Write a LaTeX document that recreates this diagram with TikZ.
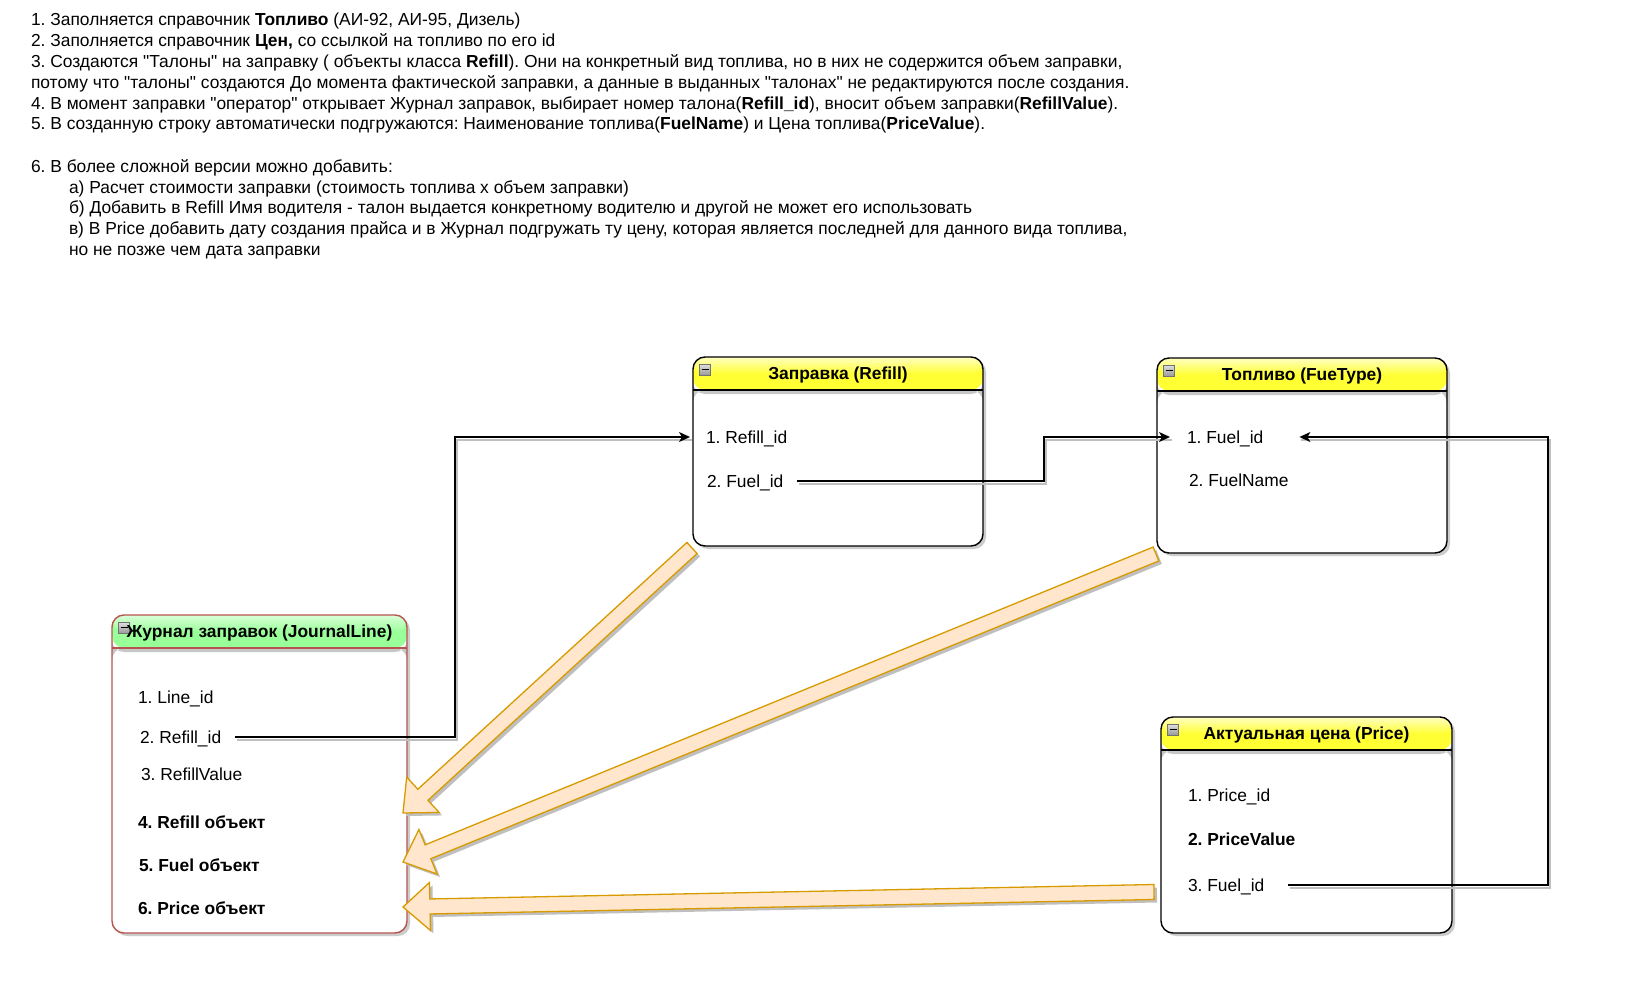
\documentclass[tikz,border=0pt]{standalone}
\usepackage{fontspec}
\setmainfont{Liberation Sans}[Ligatures=TeXOff]
\usetikzlibrary{calc,arrows.meta,shadows}
\definecolor{blkfill}{HTML}{FFE6CC}
\definecolor{blkline}{HTML}{D79B00}
\definecolor{hyel}{HTML}{FFFF33}
\definecolor{hyellt}{HTML}{FFFFC0}
\definecolor{hgrn}{HTML}{99FF99}
\definecolor{hgrnlt}{HTML}{D9FFD9}
\definecolor{jred}{HTML}{B85450}
\newcommand\fs{\fontsize{17.4}{20.8}\selectfont\frenchspacing}
\tikzset{
  tx/.style={anchor=west, inner sep=0pt, outer sep=0pt, text height=12.4pt, text depth=0pt, font=\fs},
  ttl/.style={inner sep=0pt, outer sep=0pt, text height=12.4pt, text depth=0pt, font=\fs\bfseries},
  ent/.style n args={3}{rectangle, rounded corners=12pt, fill=white, draw=#3, line width=1.4pt,
    inner sep=0pt, outer sep=0pt,
    drop shadow={shadow xshift=3pt, shadow yshift=-3pt, fill=black!20, opacity=1},
    path picture={
      \fill[#1] (path picture bounding box.north west) rectangle ([yshift=-33pt]path picture bounding box.north east);
      \shade[top color=#2, bottom color=#1] (path picture bounding box.north west) rectangle ([yshift=-17pt]path picture bounding box.north east);
      \fill[black!22] ([yshift=-33pt]path picture bounding box.north west) rectangle ([yshift=-37pt]path picture bounding box.north east);
      \draw[#3, line width=1.4pt] ([yshift=-33pt]path picture bounding box.north west) -- ([yshift=-33pt]path picture bounding box.north east);
    }},
  minusico/.style={rectangle, minimum size=11pt, inner sep=0pt, draw=black!55, line width=0.7pt,
    top color=black!12, bottom color=black!40,
    path picture={\draw[black, line width=1.2pt] ([xshift=-3.5pt]path picture bounding box.center) -- ([xshift=3.5pt]path picture bounding box.center);}},
  conn/.style={draw=black, line width=1.4pt, -{Stealth[length=11pt,width=10pt,inset=3pt]}},
  connsh/.style={draw=black!25, line width=1.3pt, transform canvas={shift={(2pt,-3pt)}}},
  blk/.style={fill=blkfill, draw=blkline, line width=1.3pt, line join=miter},
  blksh/.style={fill=black!25, transform canvas={shift={(3pt,-3pt)}}},
}
\newcommand\entity[9]{%
  \node[ent={#6}{#7}{#8}, minimum width=#4pt, minimum height=#5pt] (#1) at (#2,#3) {};
  \node[minusico] (#1-ico) at ([xshift=12pt,yshift=-12.5pt]#1.north west) {};
  \node[ttl] (#1-ttl) at ([yshift=-16.5pt]#1.north) {#9};
}
\newcommand\blockarr[2]{%
  \coordinate (ba-h) at ($(#2)!27pt!(#1)$);
  \coordinate (ba-a) at ($(#1)!7.5pt!90:(#2)$);
  \coordinate (ba-b) at ($(ba-h)!7.5pt!90:(#2)$);
  \coordinate (ba-c) at ($(ba-h)!24pt!90:(#2)$);
  \coordinate (ba-d) at ($(ba-h)!24pt!-90:(#2)$);
  \coordinate (ba-e) at ($(ba-h)!7.5pt!-90:(#2)$);
  \coordinate (ba-f) at ($(#1)!7.5pt!-90:(#2)$);
  \fill[blksh] (ba-a) -- (ba-b) -- (ba-c) -- (#2) -- (ba-d) -- (ba-e) -- (ba-f) -- cycle;
  \filldraw[blk] (ba-a) -- (ba-b) -- (ba-c) -- (#2) -- (ba-d) -- (ba-e) -- (ba-f) -- cycle;
}
\begin{document}
\begin{tikzpicture}[x=1pt,y=-1pt]
\useasboundingbox (0,0) rectangle (1626,985);
\fill[white] (0,0) rectangle (1626,985);

% explanatory text
\node[tx] (t1) at (31,19.7) {1. Заполняется справочник \textbf{Топливо} (АИ-92, АИ-95, Дизель)};
\node[tx] (t2) at (31,40.5) {2. Заполняется справочник \textbf{Цен,} со ссылкой на топливо по его id};
\node[tx] (t3) at (31,61.3) {3. Создаются "Талоны" на заправку ( объекты класса \textbf{Refill}). Они на конкретный вид топлива, но в них не содержится объем заправки,};
\node[tx] (t4) at (31,82) {потому что "талоны" создаются До момента фактической заправки, а данные в выданных "талонах" не редактируются после создания.};
\node[tx] (t5) at (31,102.8) {4. В момент заправки "оператор" открывает Журнал заправок, выбирает номер талона(\textbf{Refill\_id}), вносит объем заправки(\textbf{RefillValue}).};
\node[tx] (t6) at (31,123.6) {5. В созданную строку автоматически подгружаются: Наименование топлива(\textbf{FuelName}) и Цена топлива(\textbf{PriceValue}).};
\node[tx] (t7) at (31,166) {6. В более сложной версии можно добавить:};
\node[tx] (t8) at (69,186.8) {а) Расчет стоимости заправки (стоимость топлива х объем заправки)};
\node[tx] (t9) at (69,207.6) {б) Добавить в Refill Имя водителя - талон выдается конкретному водителю и другой не может его использовать};
\node[tx] (t10) at (69,228.4) {в) В Price добавить дату создания прайса и в Журнал подгружать ту цену, которая является последней для данного вида топлива,};
\node[tx] (t11) at (69,249.2) {но не позже чем дата заправки};

% entities
\entity{refill}{838}{451.5}{290}{189}{hyel}{hyellt}{black}{Заправка (Refill)}
\entity{fuel}{1302}{455.5}{290}{195}{hyel}{hyellt}{black}{Топливо (FueType)}
\entity{journal}{259.5}{774}{295}{318}{hgrn}{hgrnlt}{jred}{Журнал заправок (JournalLine)}
\entity{price}{1306.5}{825}{291}{216}{hyel}{hyellt}{black}{Актуальная цена (Price)}

% items
\node[tx] (r1) at (706,437) {1. Refill\_id};
\node[tx] (r2) at (707,481) {2. Fuel\_id};
\node[tx] (f1) at (1187,437) {1. Fuel\_id};
\node[tx] (f2) at (1189,480) {2. FuelName};
\node[tx] (j1) at (138,697) {1. Line\_id};
\node[tx] (j2) at (140,737) {2. Refill\_id};
\node[tx] (j3) at (141,774) {3. RefillValue};
\node[tx,font=\fs\bfseries] (j4) at (138,822) {4. Refill объект};
\node[tx,font=\fs\bfseries] (j5) at (139,865) {5. Fuel объект};
\node[tx,font=\fs\bfseries] (j6) at (138,908) {6. Price объект};
\node[tx] (p1) at (1188,795) {1. Price\_id};
\node[tx,font=\fs\bfseries] (p2) at (1188,839) {2. PriceValue};
\node[tx] (p3) at (1188,885) {3. Fuel\_id};

% connectors
\coordinate (b1) at (455,0);
\coordinate (b2) at (1044,0);
\coordinate (b3) at (1548,0);
\draw[connsh] ([xshift=14pt]j2.east) -| (b1 |- r1.west) -- ([xshift=-16pt]r1.west);
\draw[conn] ([xshift=14pt]j2.east) -| (b1 |- r1.west) -- ([xshift=-16pt]r1.west);
\draw[connsh] ([xshift=14pt]r2.east) -| (b2 |- f1.west) -- ([xshift=-17pt]f1.west);
\draw[conn] ([xshift=14pt]r2.east) -| (b2 |- f1.west) -- ([xshift=-17pt]f1.west);
\draw[connsh] ([xshift=24pt]p3.east) -| (b3 |- f1.east) -- ([xshift=36pt]f1.east);
\draw[conn] ([xshift=24pt]p3.east) -| (b3 |- f1.east) -- ([xshift=36pt]f1.east);

% block arrows
\coordinate (a1s) at ([shift={(-1pt,-2pt)}]refill.south west);
\coordinate (a1e) at ([shift={(-4pt,-39pt)}]journal.east);
\coordinate (a2s) at ([shift={(-1pt,-1pt)}]fuel.south west);
\coordinate (a2e) at ([shift={(-4pt,-88pt)}]journal.east);
\coordinate (a3s) at ([shift={(-7pt,-67pt)}]price.west);
\coordinate (a3e) at ([shift={(-4pt,-133pt)}]journal.east);
\blockarr{a1s}{a1e}
\blockarr{a2s}{a2e}
\blockarr{a3s}{a3e}
\end{tikzpicture}
\end{document}
